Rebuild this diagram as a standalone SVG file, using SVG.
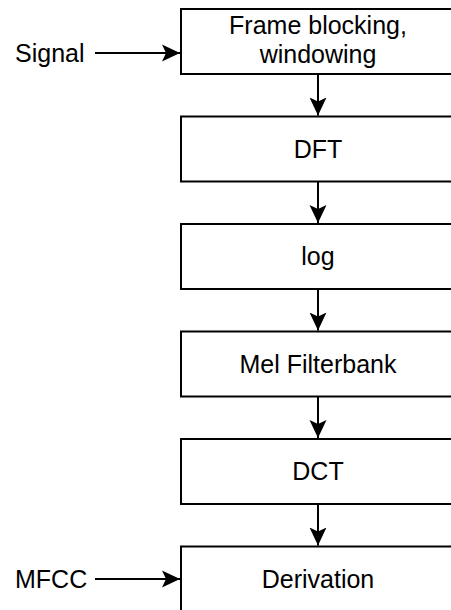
<svg xmlns="http://www.w3.org/2000/svg" width="451" height="610" viewBox="0 0 451 610">
  <style>
    .box { fill: #ffffff; stroke: #000000; stroke-width: 2; }
    .lbl { font-family: "Liberation Sans", Arial, Helvetica, sans-serif; font-size: 25px; fill: #000000; text-anchor: middle; }
    .side { font-family: "Liberation Sans", Arial, Helvetica, sans-serif; font-size: 25px; fill: #000000; text-anchor: start; }
    .edge { fill: none; stroke: #000000; stroke-width: 2; }
  </style>
  <defs>
    <marker id="arrow" markerUnits="userSpaceOnUse" viewBox="-18 -9 20 18" refX="0" refY="0" markerWidth="20" markerHeight="18" orient="auto">
      <path d="M0,0 L-18,-8.5 L-14,0 L-18,8.5 Z" fill="#000000"/>
    </marker>
  </defs>
  <rect width="451" height="610" fill="#ffffff"/>

  <!-- processing chain -->
  <g id="frame">
    <rect class="box" x="181" y="9" width="275" height="65"/>
    <text class="lbl" x="318" y="33.5">Frame blocking,</text>
    <text class="lbl" x="318" y="63">windowing</text>
  </g>
  <g id="dft">
    <rect class="box" x="181" y="116.5" width="275" height="65"/>
    <text class="lbl" x="318" y="157.5">DFT</text>
  </g>
  <g id="log">
    <rect class="box" x="181" y="224" width="275" height="65"/>
    <text class="lbl" x="318" y="265">log</text>
  </g>
  <g id="mel">
    <rect class="box" x="181" y="331.5" width="275" height="65"/>
    <text class="lbl" x="318" y="372.5">Mel Filterbank</text>
  </g>
  <g id="dct">
    <rect class="box" x="181" y="439" width="275" height="65"/>
    <text class="lbl" x="318" y="480">DCT</text>
  </g>
  <g id="derivation">
    <rect class="box" x="181" y="546.5" width="275" height="70"/>
    <text class="lbl" x="318" y="588">Derivation</text>
  </g>

  <!-- side inputs -->
  <g id="signal">
    <text class="side" x="15" y="61.5">Signal</text>
  </g>
  <g id="mfcc">
    <text class="side" x="15" y="588">MFCC</text>
  </g>

  <g id="connectors">
    <line class="edge" x1="95" y1="53" x2="180" y2="53" marker-end="url(#arrow)"/>
    <line class="edge" x1="95" y1="579" x2="180" y2="579" marker-end="url(#arrow)"/>
    <line class="edge" x1="318" y1="74" x2="318" y2="115.5" marker-end="url(#arrow)"/>
    <line class="edge" x1="318" y1="181.5" x2="318" y2="223" marker-end="url(#arrow)"/>
    <line class="edge" x1="318" y1="289" x2="318" y2="330.5" marker-end="url(#arrow)"/>
    <line class="edge" x1="318" y1="396.5" x2="318" y2="438" marker-end="url(#arrow)"/>
    <line class="edge" x1="318" y1="504" x2="318" y2="545.5" marker-end="url(#arrow)"/>
  </g>
</svg>
